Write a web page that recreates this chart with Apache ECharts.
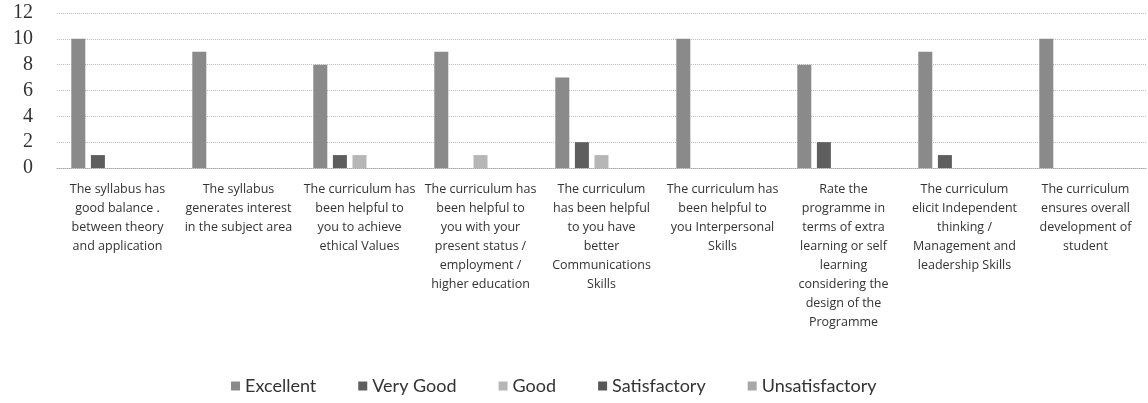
<!DOCTYPE html>
<html>
<head>
<meta charset="utf-8">
<script src="https://cdn.jsdelivr.net/npm/echarts@6/dist/echarts.min.js"></script>
<style>
html,body{margin:0;padding:0;background:#fff;}
#c{width:1148px;height:403px;}
</style>
</head>
<body>
<div id="c"></div>
<script>
const categories = [
  "The syllabus has\ngood balance .\nbetween theory\nand application",
  "The syllabus\ngenerates interest\nin the subject area",
  "The curriculum has\nbeen helpful to\nyou to achieve\nethical Values",
  "The curriculum has\nbeen helpful to\nyou with your\npresent status /\nemployment /\nhigher education",
  "The curriculum\nhas been helpful\nto you have\nbetter\nCommunications\nSkills",
  "The curriculum has\nbeen helpful to\nyou Interpersonal\nSkills",
  "Rate the\nprogramme in\nterms of extra\nlearning or self\nlearning\nconsidering the\ndesign of the\nProgramme",
  "The curriculum\nelicit Independent\nthinking /\nManagement and\nleadership Skills",
  "The curriculum\nensures overall\ndevelopment of\nstudent"
];
const seriesNames = ["Excellent", "Very Good", "Good", "Satisfactory", "Unsatisfactory"];
const excellent      = [10, 9, 8, 9, 7, 10, 8, 9, 10];
const veryGood       = [1, 0, 1, 0, 2, 0, 2, 1, 0];
const good           = [0, 0, 1, 1, 1, 0, 0, 0, 0];
const satisfactory   = [0, 0, 0, 0, 0, 0, 0, 0, 0];
const unsatisfactory = [0, 0, 0, 0, 0, 0, 0, 0, 0];
const yTicks = [0, 2, 4, 6, 8, 10, 12];

const seriesData = [excellent, veryGood, good, satisfactory, unsatisfactory];
const colors = ["#8a8a8a", "#5e5e5e", "#b6b6b6", "#585858", "#a8a8a8"];

const chart = echarts.init(document.getElementById('c'), null, {renderer: 'canvas'});
chart.setOption({
  backgroundColor: '#ffffff',
  animation: false,
  grid: {left: 57, right: 2, top: 13, bottom: 235, containLabel: false},
  legend: {
    data: seriesNames,
    left: 226,
    top: 372,
    icon: 'rect',
    itemWidth: 9,
    itemHeight: 9,
    itemGap: 42,
    textStyle: {fontFamily: 'Lato, "Open Sans", sans-serif', fontSize: 18, color: '#333'}
  },
  xAxis: {
    type: 'category',
    data: categories,
    axisLine: {show: true, lineStyle: {color: '#aaaaaa', type: 'dotted', width: 1}},
    axisTick: {show: false},
    axisLabel: {
      interval: 0,
      margin: 12,
      fontFamily: '"Open Sans", sans-serif',
      fontSize: 12.5,
      lineHeight: 19,
      color: '#333',
      align: 'center'
    }
  },
  yAxis: {
    type: 'value',
    min: 0,
    max: 12,
    interval: 2,
    axisLine: {show: false},
    axisTick: {show: false},
    splitLine: {show: true, lineStyle: {color: '#bdbdbd', type: 'dotted', width: 1}},
    axisLabel: {
      margin: 24,
      fontFamily: '"Liberation Serif", "DejaVu Serif", serif',
      fontSize: 20,
      color: '#333',
      formatter: function (v) { return yTicks.indexOf(v) >= 0 ? String(v) : ''; }
    }
  },
  series: seriesNames.map((n, i) => ({
    name: n,
    type: 'bar',
    data: seriesData[i],
    barWidth: 14,
    barGap: '40%',
    itemStyle: {color: colors[i]}
  }))
});
</script>
</body>
</html>
